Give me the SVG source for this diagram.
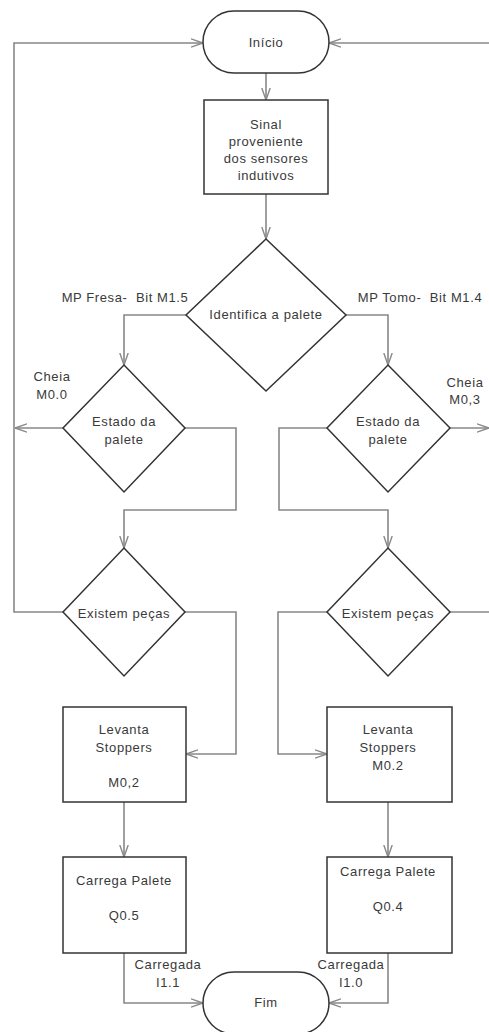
<svg xmlns="http://www.w3.org/2000/svg" width="489" height="1032" viewBox="0 0 489 1032">
  <style>
    .shape { fill: #fff; stroke: #333; stroke-width: 1.5; }
    .conn { fill: none; stroke: #888; stroke-width: 1.6; }
    .lbl { font-family: "Liberation Sans", Arial, sans-serif; font-size: 13px; letter-spacing: 0.6px; fill: #3a3a3a; text-anchor: middle; white-space: pre; }
  </style>
  <defs>
    <marker id="arr" viewBox="0 0 12 10" refX="12" refY="5" markerWidth="12" markerHeight="10" markerUnits="userSpaceOnUse" orient="auto">
      <path d="M0,0.8 L12,5 L0,9.2" fill="none" stroke="#888" stroke-width="1.4"/>
    </marker>
  </defs>
  <rect width="489" height="1032" fill="#fff"/>

  <g id="connectors">
    <!-- main trunk -->
    <path class="conn" d="M266,72 V100" marker-end="url(#arr)"/>
    <path class="conn" d="M266,194 V239" marker-end="url(#arr)"/>
    <!-- pallet identification branches -->
    <path class="conn" d="M186,315 H124 V365" marker-end="url(#arr)"/>
    <path class="conn" d="M345,315 H388 V365" marker-end="url(#arr)"/>
    <!-- left column -->
    <path class="conn" d="M63,428 H15" marker-end="url(#arr)"/>
    <path class="conn" d="M185,428 H236 V510 H124 V548" marker-end="url(#arr)"/>
    <path class="conn" d="M63,612 H14 V43 H203" marker-end="url(#arr)"/>
    <path class="conn" d="M185,612 H236 V754 H186" marker-end="url(#arr)"/>
    <path class="conn" d="M124,802 V857" marker-end="url(#arr)"/>
    <path class="conn" d="M124,953 V1003 H203" marker-end="url(#arr)"/>
    <!-- right column -->
    <path class="conn" d="M450,428 H489" marker-end="url(#arr)"/>
    <path class="conn" d="M327,428 H279 V510 H388 V548" marker-end="url(#arr)"/>
    <path class="conn" d="M450,612 H492"/>
    <path class="conn" d="M492,43 H329" marker-end="url(#arr)"/>
    <path class="conn" d="M327,612 H278 V754 H327" marker-end="url(#arr)"/>
    <path class="conn" d="M388,802 V857" marker-end="url(#arr)"/>
    <path class="conn" d="M388,953 V1003 H329" marker-end="url(#arr)"/>
  </g>

  <g id="inicio">
    <rect class="shape" x="203" y="11" width="126" height="62" rx="31" ry="31"/>
    <text class="lbl" x="266" y="47">Início</text>
  </g>

  <g id="sinal">
    <rect class="shape" x="204" y="100" width="124" height="94"/>
    <text class="lbl" x="266" y="129">Sinal</text>
    <text class="lbl" x="266" y="146">proveniente</text>
    <text class="lbl" x="266" y="163">dos sensores</text>
    <text class="lbl" x="266" y="180">indutivos</text>
  </g>

  <g id="identifica">
    <polygon class="shape" points="266,239 346,315 266,391 186,315"/>
    <text class="lbl" x="266" y="319">Identifica a palete</text>
  </g>

  <g id="labels-branch">
    <text class="lbl" x="125" y="302" xml:space="preserve">MP Fresa-  Bit M1.5</text>
    <text class="lbl" x="420" y="302" xml:space="preserve">MP Tomo-  Bit M1.4</text>
    <text class="lbl" x="52" y="381">Cheia</text>
    <text class="lbl" x="52" y="399">M0.0</text>
    <text class="lbl" x="465" y="387">Cheia</text>
    <text class="lbl" x="465" y="404">M0,3</text>
    <text class="lbl" x="168" y="969">Carregada</text>
    <text class="lbl" x="168" y="987">I1.1</text>
    <text class="lbl" x="351" y="969">Carregada</text>
    <text class="lbl" x="351" y="987">I1.0</text>
  </g>

  <g id="estado-esq">
    <polygon class="shape" points="124,365 185,428 124,492 63,428"/>
    <text class="lbl" x="124" y="426">Estado da</text>
    <text class="lbl" x="124" y="444">palete</text>
  </g>

  <g id="estado-dir">
    <polygon class="shape" points="388,365 450,428 388,492 327,428"/>
    <text class="lbl" x="388" y="426">Estado da</text>
    <text class="lbl" x="388" y="444">palete</text>
  </g>

  <g id="existem-esq">
    <polygon class="shape" points="124,548 185,612 124,676 63,612"/>
    <text class="lbl" x="124" y="618">Existem peças</text>
  </g>

  <g id="existem-dir">
    <polygon class="shape" points="388,548 450,612 388,676 327,612"/>
    <text class="lbl" x="388" y="618">Existem peças</text>
  </g>

  <g id="levanta-esq">
    <rect class="shape" x="63" y="707" width="123" height="95"/>
    <text class="lbl" x="124" y="734">Levanta</text>
    <text class="lbl" x="124" y="752">Stoppers</text>
    <text class="lbl" x="124" y="787">M0,2</text>
  </g>

  <g id="levanta-dir">
    <rect class="shape" x="327" y="707" width="125" height="95"/>
    <text class="lbl" x="388" y="734">Levanta</text>
    <text class="lbl" x="388" y="752">Stoppers</text>
    <text class="lbl" x="388" y="770">M0.2</text>
  </g>

  <g id="carrega-esq">
    <rect class="shape" x="63" y="857" width="123" height="96"/>
    <text class="lbl" x="124" y="885">Carrega Palete</text>
    <text class="lbl" x="124" y="920">Q0.5</text>
  </g>

  <g id="carrega-dir">
    <rect class="shape" x="327" y="857" width="125" height="96"/>
    <text class="lbl" x="388" y="876">Carrega Palete</text>
    <text class="lbl" x="388" y="911">Q0.4</text>
  </g>

  <g id="fim">
    <rect class="shape" x="203" y="972" width="126" height="62" rx="31" ry="31"/>
    <text class="lbl" x="266" y="1007">Fim</text>
  </g>
</svg>
